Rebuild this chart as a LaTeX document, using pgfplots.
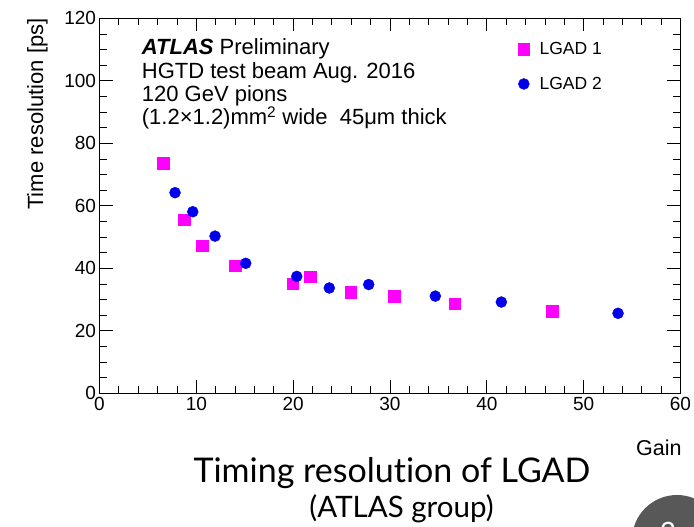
\documentclass[border=0pt]{standalone}
\usepackage{fontspec}
\setmainfont{Liberation Sans}
\newfontfamily\titlefont[Ligatures=NoCommon]{Lato}
\usepackage{pgfplots}
\pgfplotsset{compat=1.18}
\definecolor{lgadone}{RGB}{255,0,255}
\definecolor{lgadtwo}{RGB}{0,0,235}
\definecolor{badge}{RGB}{88,88,88}
\begin{document}
\begin{tikzpicture}[x=1pt,y=1pt]
\begin{axis}[
  at={(99.5pt,133.7pt)}, anchor=south west,
  scale only axis, width=581pt, height=375pt,
  xmin=0, xmax=60, ymin=0, ymax=120,
  xtick={0,10,...,60}, ytick={0,20,...,120},
  minor x tick num=4, minor y tick num=3,
  tick align=inside, major tick length=13pt, minor tick length=7pt,
  axis line style={line width=0.8pt},
  every tick/.style={line width=0.8pt, black},
  ticklabel style={font=\fontsize{19}{22}\selectfont},
  /pgf/number format/assume math mode=true,
  legend style={draw=none, fill=none, at={(rel axis cs:0.715,0.947)}, anchor=north west,
    font=\fontsize{17.5}{20}\selectfont, row sep=17pt, column sep=8pt},
  legend cell align=left,
]
\addplot[only marks, mark=square*, mark size=5.75pt, color=lgadone] coordinates {
(6.59,73.6) (8.73,55.5) (10.62,47.2) (13.99,40.8) (19.95,35.0)
(21.74,37.3) (25.94,32.4) (30.41,31.1) (36.68,28.7) (46.77,26.3)};
\addlegendentry{LGAD 1}
\addplot[only marks, mark=*, mark size=5.5pt, color=lgadtwo] coordinates {
(7.80,64.2) (9.63,58.1) (11.93,50.3) (15.10,41.6) (20.37,37.4)
(23.73,33.7) (27.80,34.8) (34.68,31.1) (41.50,29.2) (53.55,25.6)};
\addlegendentry{LGAD 2}
\end{axis}
% annotation text block
\begin{scope}[every node/.style={anchor=base west, inner sep=0pt, font=\fontsize{22}{26}\selectfont}]
\node at (141.7,472) {\textbf{\textit{ATLAS}} Preliminary};
\node at (141.7,448.7) {HGTD test beam Aug. 2016};
\node at (141.7,425.3) {120 GeV pions};
\node at (141.7,402) {(1.2×1.2)mm\textsuperscript{2} wide\ \ 45μm thick};
\end{scope}
% axis titles
\node[rotate=90, anchor=base east, inner sep=0pt, font=\fontsize{22}{26}\selectfont] at (43,508.7) {Time resolution [ps]};
\node[anchor=base east, inner sep=0pt, font=\fontsize{21.5}{26}\selectfont] at (681.7,71.3) {Gain};
% slide caption
\node[anchor=base, inner sep=0pt, font=\titlefont\fontsize{34}{40}\selectfont] at (392,44) {Timing resolution of LGAD};
\node[anchor=base, inner sep=0pt, font=\titlefont\fontsize{29.5}{36}\selectfont] at (401.5,9) {(ATLAS group)};
% slide number badge
\begin{scope}
\clip (0,0) rectangle (694,527);
\fill[badge] (677,-13) circle (45);
\node[anchor=north, inner sep=0pt, text=white, font=\titlefont\fontsize{28}{32}\selectfont] at (668,5) {3};
\end{scope}
\pgfresetboundingbox
\useasboundingbox (0,0) rectangle (694,527);
\end{tikzpicture}
\end{document}
